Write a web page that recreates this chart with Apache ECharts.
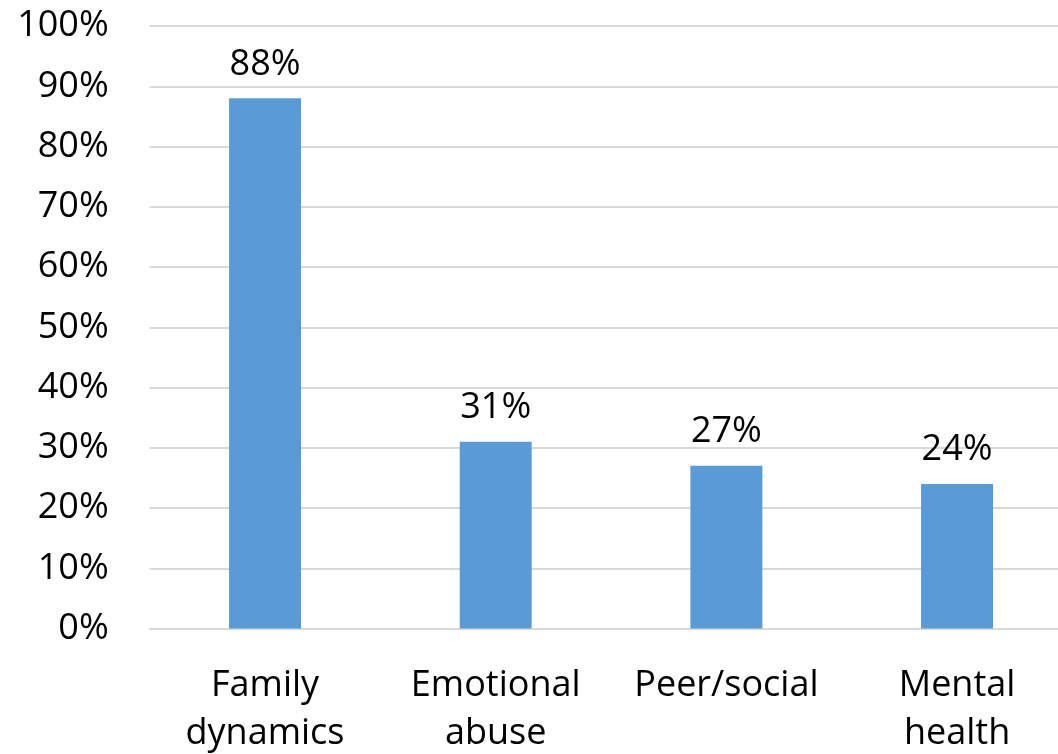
<!DOCTYPE html>
<html>
<head>
<meta charset="utf-8">
<script src="https://cdn.jsdelivr.net/npm/echarts@6/dist/echarts.min.js"></script>
<style>
  html, body { margin: 0; padding: 0; background: #ffffff; }
  #chart { width: 1058px; height: 754px; }
</style>
</head>
<body>
<div id="chart"></div>
<script>
// Share of cases by contributing factor
const categories = ['Family\ndynamics', 'Emotional\nabuse', 'Peer/social', 'Mental\nhealth'];
const values = [88, 31, 27, 24];
const yTicks = [0, 10, 20, 30, 40, 50, 60, 70, 80, 90, 100];

const FONT = '"Open Sans", sans-serif';
const chart = echarts.init(document.getElementById('chart'), null, { renderer: 'canvas' });

chart.setOption({
  animation: false,
  backgroundColor: '#ffffff',
  grid: {
    left: 149.7,
    right: -14.4,
    top: 26,
    bottom: 125.5,
    containLabel: false,
    outerBoundsMode: 'none'
  },
  xAxis: {
    type: 'category',
    data: categories,
    axisLine: { show: true, lineStyle: { color: '#D9D9D9', width: 2 } },
    axisTick: { show: false },
    axisLabel: {
      color: '#000000',
      fontFamily: FONT,
      fontSize: 36,
      lineHeight: 48,
      margin: 33,
      interval: 0
    }
  },
  yAxis: {
    type: 'value',
    min: yTicks[0],
    max: yTicks[yTicks.length - 1],
    interval: 10,
    axisLine: { show: false },
    axisTick: { show: false },
    splitLine: { show: true, lineStyle: { color: '#D9D9D9', width: 2 } },
    axisLabel: {
      color: '#000000',
      fontFamily: FONT,
      fontSize: 36,
      margin: 41,
      formatter: v => v + '%'
    }
  },
  series: [{
    type: 'bar',
    data: values,
    barWidth: '31.2%',
    itemStyle: { color: '#5B9BD5' },
    label: {
      show: true,
      position: 'top',
      distance: 16,
      color: '#000000',
      fontFamily: FONT,
      fontSize: 36,
      formatter: p => p.value + '%'
    }
  }]
});
</script>
</body>
</html>
